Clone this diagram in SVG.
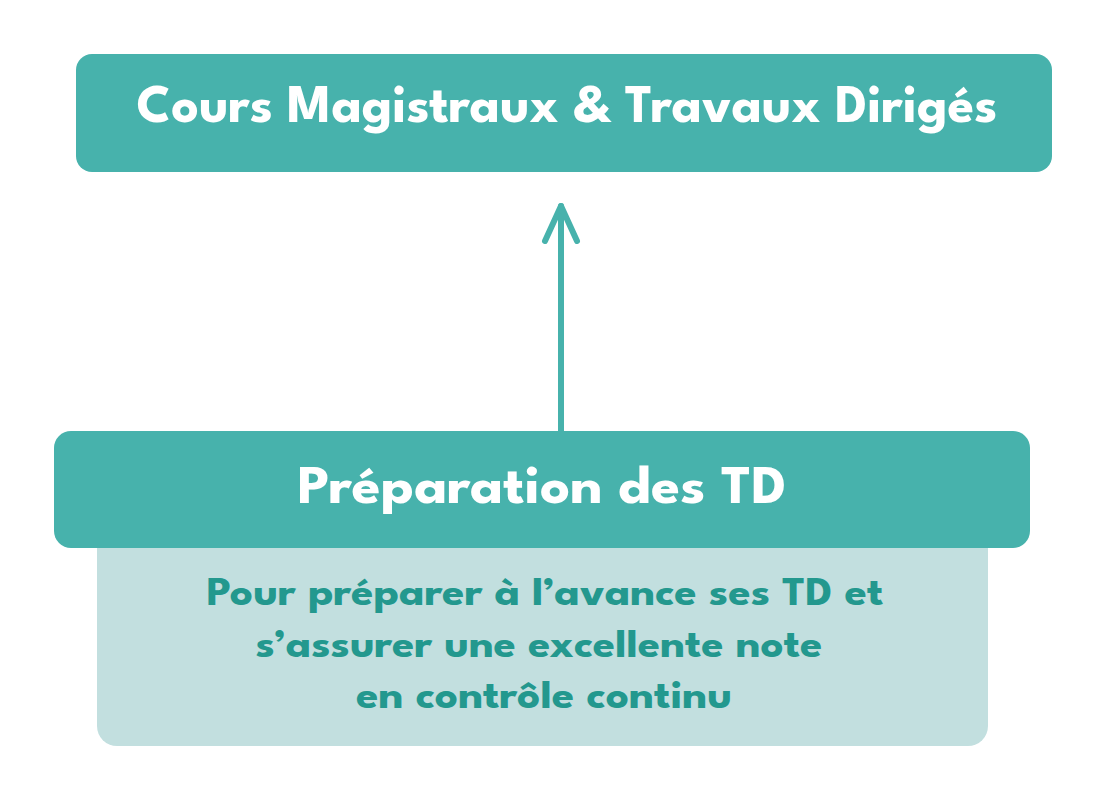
<svg xmlns="http://www.w3.org/2000/svg" width="1100" height="800" viewBox="0 0 1100 800">
<style>
.hdr{fill:#47B2AC}
.sub{fill:#C2DFDF}
.t1{font-family:"League Spartan","Lato","Liberation Sans",sans-serif;font-weight:700;fill:#FFFFFF}
.t2{font-family:"League Spartan","Lato","Liberation Sans",sans-serif;font-weight:700;fill:#23988E;font-size:41px}
.conn{stroke:#47B2AC;stroke-width:6;fill:none;stroke-linecap:round;stroke-linejoin:round}
</style>
<rect width="1100" height="800" fill="#FFFFFF"/>
<g id="connectors">
<line class="conn" x1="561" y1="432" x2="561" y2="206"/>
<polyline class="conn" points="545,241 561,206 577,241"/>
</g>
<g id="node-cours">
<rect class="hdr" x="76" y="54" width="976" height="118" rx="16"/>
<text class="t1" x="567" y="122" font-size="55" text-anchor="middle" textLength="861" lengthAdjust="spacingAndGlyphs">Cours Magistraux &amp; Travaux Dirigés</text>
</g>
<g id="node-preparation">
<rect class="sub" x="97" y="520" width="891" height="226" rx="20"/>
<rect class="hdr" x="54" y="431" width="976" height="117" rx="17"/>
<text class="t1" x="542" y="503" font-size="55" text-anchor="middle" textLength="489" lengthAdjust="spacingAndGlyphs">Préparation des TD</text>
<text class="t2" x="545" y="605" text-anchor="middle" textLength="677" lengthAdjust="spacingAndGlyphs">Pour préparer à l’avance ses TD et</text>
<text class="t2" x="539" y="657" text-anchor="middle" textLength="567" lengthAdjust="spacingAndGlyphs">s’assurer une excellente note</text>
<text class="t2" x="544" y="708" text-anchor="middle" textLength="376" lengthAdjust="spacingAndGlyphs">en contrôle continu</text>
</g>
</svg>
